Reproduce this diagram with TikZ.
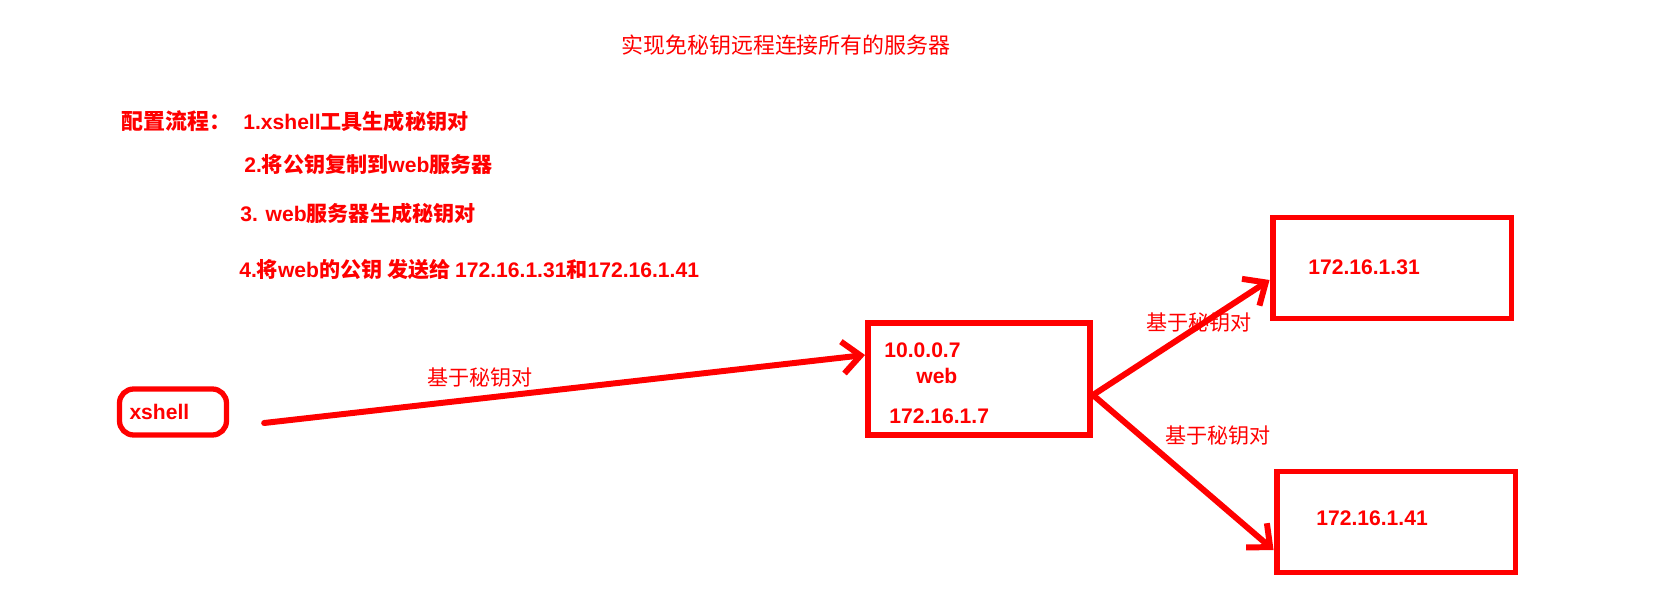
\documentclass[tikz,border=0pt]{standalone}
\usepackage{fontspec}
\setmainfont{Liberation Sans}
\newfontfamily\zhfont{Noto Sans CJK SC}
\usetikzlibrary{arrows.meta, positioning, calc}
\newcommand{\zh}[1]{{\zhfont #1}}
\tikzset{
    heading/.style={
        text=red, inner sep=0pt,
        font=\fontsize{12.5}{15}\selectfont
    },
    stepitem/.style={
        text=red, inner sep=0pt, anchor=west,
        font=\bfseries\fontsize{12}{14}\selectfont
    },
    keytext/.style={
        text=red, inner sep=0pt,
        font=\fontsize{12}{14}\selectfont
    },
    server/.style={
        rectangle, draw=red, line width=3.4pt,
        minimum width=4.78cm, minimum height=2.02cm
    },
    client/.style={
        rectangle, rounded corners=8pt, draw=red, line width=3pt,
        text width=1.74cm, inner xsep=0.2cm, minimum height=0.92cm,
        align=left, text=red, font=\bfseries\fontsize{12}{14}\selectfont
    },
    link/.style={-{Straight Barb[length=3.6mm,width=6.4mm]}, line width=3.4pt, draw=red, line cap=round}
}

\begin{document}
\begin{tikzpicture}[x=0.02cm, y=-0.02cm]
    \useasboundingbox (0,0) rectangle (1674,604);

    % title and steps
    \node[heading] (title) at (786,45) {\zh{实现免秘钥远程连接所有的服务器}};
    \node[heading, anchor=west, font=\bfseries\fontsize{12.5}{15}\selectfont] (flow) at (121,121) {\zh{配置流程：}};
    \node[stepitem] (s1) at (243,121) {1.xshell\zh{工具生成秘钥对}};
    \node[stepitem] (s2) at (244,165) {2.\zh{将公钥复制到}web\zh{服务器}};
    \node[stepitem] (s3) at (240,213) {3. web\zh{服务器生成秘钥对}};
    \node[stepitem] (s4) at (239,270) {4.\zh{将}web\zh{的公钥 发送给 }172.16.1.31\zh{和}172.16.1.41};

    % hosts
    \node[client] (xshell) at (173,412) {xshell};
    \node[server, minimum width=4.44cm, minimum height=2.24cm] (web) at (979,379) {};
    \node[stepitem] (webip) at (884,350) {10.0.0.7};
    \node[stepitem] (webname) at (916,376) {web};
    \node[stepitem] (webin) at (889,416) {172.16.1.7};
    \node[server] (nfs) at (1392,268) {};
    \node[stepitem] (nfsip) at (1308,267) {172.16.1.31};
    \node[server] (backup) at (1396,522) {};
    \node[stepitem] (backupip) at (1316,518) {172.16.1.41};

    % connections
    \draw[link] ($(xshell.east)+(35,11)$) -- ($(web.west)+(0,-24)$);
    \draw[link] ($(web.east)+(0,16)$) -- ($(nfs.west)+(0,12)$);
    \draw[link] ($(web.east)+(0,16)$) -- ($(backup.west)+(0,28)$);
    \node[keytext] (k1) at (480,378) {\zh{基于秘钥对}};
    \node[keytext] (k2) at (1199,323) {\zh{基于秘钥对}};
    \node[keytext] (k3) at (1218,436) {\zh{基于秘钥对}};
\end{tikzpicture}
\end{document}
